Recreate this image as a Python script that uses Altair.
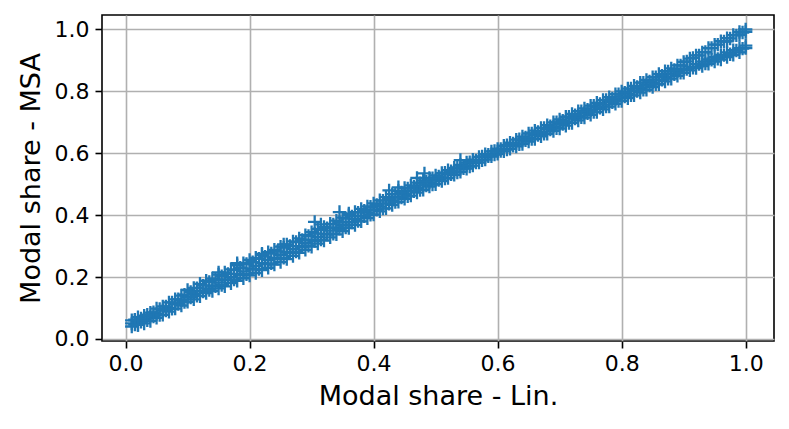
import altair as alt
import pandas as pd

# Modal share - Lin. (x) and three readings of Modal share - MSA (y) across the band
lin = [
    0.01, 0.02, 0.03, 0.04, 0.05, 0.06, 0.07, 0.08, 0.09, 0.10,
    0.11, 0.12, 0.13, 0.14, 0.15, 0.16, 0.17, 0.18, 0.19, 0.20,
    0.21, 0.22, 0.23, 0.24, 0.25, 0.26, 0.27, 0.28, 0.29, 0.30,
    0.31, 0.32, 0.33, 0.34, 0.35, 0.36, 0.37, 0.38, 0.39, 0.40,
    0.41, 0.42, 0.43, 0.44, 0.45, 0.46, 0.47, 0.48, 0.49, 0.50,
    0.51, 0.52, 0.53, 0.54, 0.55, 0.56, 0.57, 0.58, 0.59, 0.60,
    0.61, 0.62, 0.63, 0.64, 0.65, 0.66, 0.67, 0.68, 0.69, 0.70,
    0.71, 0.72, 0.73, 0.74, 0.75, 0.76, 0.77, 0.78, 0.79, 0.80,
    0.81, 0.82, 0.83, 0.84, 0.85, 0.86, 0.87, 0.88, 0.89, 0.90,
    0.91, 0.92, 0.93, 0.94, 0.95, 0.96, 0.97, 0.98, 0.99, 1.00,
]
msa_low = [
    0.040, 0.045, 0.050, 0.058, 0.068, 0.078, 0.088, 0.098, 0.108, 0.120,
    0.128, 0.138, 0.148, 0.155, 0.163, 0.170, 0.180, 0.188, 0.196, 0.205,
    0.213, 0.222, 0.230, 0.240, 0.248, 0.258, 0.268, 0.278, 0.288, 0.298,
    0.308, 0.318, 0.328, 0.338, 0.348, 0.358, 0.368, 0.380, 0.390, 0.402,
    0.412, 0.422, 0.433, 0.443, 0.453, 0.463, 0.473, 0.482, 0.492, 0.500,
    0.510, 0.520, 0.530, 0.540, 0.550, 0.560, 0.570, 0.580, 0.590, 0.598,
    0.606, 0.614, 0.622, 0.630, 0.638, 0.646, 0.655, 0.663, 0.672, 0.680,
    0.689, 0.698, 0.706, 0.715, 0.724, 0.733, 0.742, 0.751, 0.760, 0.769,
    0.778, 0.787, 0.796, 0.805, 0.814, 0.823, 0.832, 0.841, 0.850, 0.860,
    0.868, 0.875, 0.882, 0.889, 0.896, 0.903, 0.911, 0.918, 0.926, 0.940,
]
msa_mid = [
    0.050, 0.055, 0.065, 0.072, 0.080, 0.092, 0.100, 0.112, 0.125, 0.135,
    0.145, 0.155, 0.163, 0.172, 0.182, 0.192, 0.200, 0.210, 0.218, 0.228,
    0.236, 0.245, 0.255, 0.262, 0.272, 0.280, 0.290, 0.300, 0.310, 0.320,
    0.330, 0.340, 0.350, 0.360, 0.368, 0.378, 0.388, 0.398, 0.408, 0.418,
    0.428, 0.438, 0.448, 0.458, 0.468, 0.478, 0.488, 0.496, 0.505, 0.513,
    0.522, 0.532, 0.541, 0.550, 0.560, 0.569, 0.578, 0.588, 0.597, 0.606,
    0.614, 0.623, 0.632, 0.641, 0.650, 0.659, 0.668, 0.677, 0.686, 0.695,
    0.703, 0.712, 0.721, 0.730, 0.739, 0.748, 0.757, 0.766, 0.775, 0.784,
    0.793, 0.802, 0.811, 0.820, 0.829, 0.838, 0.847, 0.856, 0.865, 0.872,
    0.880, 0.888, 0.896, 0.903, 0.911, 0.918, 0.926, 0.933, 0.940, 0.948,
]
msa_high = [
    0.060, 0.070, 0.075, 0.085, 0.098, 0.105, 0.118, 0.128, 0.140, 0.158,
    0.165, 0.178, 0.188, 0.195, 0.208, 0.215, 0.225, 0.238, 0.245, 0.255,
    0.262, 0.272, 0.280, 0.288, 0.298, 0.305, 0.315, 0.325, 0.335, 0.345,
    0.355, 0.362, 0.372, 0.382, 0.392, 0.400, 0.410, 0.420, 0.428, 0.438,
    0.448, 0.458, 0.468, 0.478, 0.488, 0.496, 0.505, 0.512, 0.520, 0.528,
    0.536, 0.545, 0.553, 0.562, 0.570, 0.579, 0.588, 0.597, 0.606, 0.614,
    0.624, 0.634, 0.644, 0.654, 0.664, 0.673, 0.682, 0.691, 0.700, 0.709,
    0.718, 0.727, 0.736, 0.745, 0.754, 0.763, 0.772, 0.781, 0.791, 0.800,
    0.809, 0.818, 0.828, 0.837, 0.846, 0.856, 0.865, 0.874, 0.884, 0.895,
    0.906, 0.916, 0.926, 0.940, 0.951, 0.962, 0.972, 0.982, 0.992, 1.000,
]

# in-between readings at the half steps
lin_half = [
    0.015, 0.025, 0.035, 0.045, 0.055, 0.065, 0.075, 0.085, 0.095, 0.105,
    0.115, 0.125, 0.135, 0.145, 0.155, 0.165, 0.175, 0.185, 0.195, 0.205,
    0.215, 0.225, 0.235, 0.245, 0.255, 0.265, 0.275, 0.285, 0.295, 0.305,
    0.315, 0.325, 0.335, 0.345, 0.355, 0.365, 0.375, 0.385, 0.395, 0.405,
    0.415, 0.425, 0.435, 0.445, 0.455, 0.465, 0.475, 0.485, 0.495, 0.505,
    0.515, 0.525, 0.535, 0.545, 0.555, 0.565, 0.575, 0.585, 0.595, 0.605,
    0.615, 0.625, 0.635, 0.645, 0.655, 0.665, 0.675, 0.685, 0.695, 0.705,
    0.715, 0.725, 0.735, 0.745, 0.755, 0.765, 0.775, 0.785, 0.795, 0.805,
    0.815, 0.825, 0.835, 0.845, 0.855, 0.865, 0.875, 0.885, 0.895, 0.905,
    0.915, 0.925, 0.935, 0.945, 0.955, 0.965, 0.975, 0.985, 0.995,
]
msa_q1 = [
    0.046, 0.055, 0.060, 0.072, 0.077, 0.092, 0.097, 0.113, 0.119, 0.134,
    0.139, 0.153, 0.158, 0.170, 0.174, 0.189, 0.192, 0.206, 0.209, 0.224,
    0.226, 0.241, 0.244, 0.259, 0.262, 0.277, 0.282, 0.297, 0.301, 0.316,
    0.321, 0.337, 0.340, 0.356, 0.360, 0.376, 0.381, 0.396, 0.401, 0.417,
    0.421, 0.437, 0.442, 0.457, 0.461, 0.477, 0.481, 0.496, 0.499, 0.513,
    0.518, 0.532, 0.538, 0.551, 0.557, 0.570, 0.577, 0.590, 0.596, 0.607,
    0.612, 0.624, 0.629, 0.642, 0.646, 0.659, 0.663, 0.677, 0.681, 0.694,
    0.698, 0.712, 0.716, 0.729, 0.733, 0.747, 0.751, 0.765, 0.769, 0.783,
    0.787, 0.801, 0.805, 0.819, 0.823, 0.837, 0.841, 0.855, 0.860, 0.872,
    0.876, 0.888, 0.890, 0.902, 0.905, 0.917, 0.920, 0.932, 0.938,
]
msa_q3 = [
    0.062, 0.066, 0.078, 0.086, 0.097, 0.105, 0.118, 0.128, 0.143, 0.152,
    0.164, 0.172, 0.184, 0.191, 0.203, 0.210, 0.222, 0.230, 0.242, 0.248,
    0.259, 0.266, 0.276, 0.283, 0.295, 0.300, 0.313, 0.320, 0.333, 0.340,
    0.352, 0.358, 0.370, 0.377, 0.389, 0.396, 0.408, 0.414, 0.427, 0.433,
    0.447, 0.453, 0.467, 0.473, 0.486, 0.492, 0.503, 0.508, 0.519, 0.525,
    0.537, 0.542, 0.554, 0.560, 0.571, 0.577, 0.590, 0.595, 0.607, 0.614,
    0.626, 0.632, 0.645, 0.651, 0.664, 0.669, 0.682, 0.687, 0.700, 0.705,
    0.718, 0.723, 0.736, 0.741, 0.754, 0.759, 0.772, 0.777, 0.791, 0.796,
    0.809, 0.814, 0.828, 0.832, 0.846, 0.851, 0.864, 0.869, 0.884, 0.897,
    0.908, 0.916, 0.927, 0.940, 0.951, 0.961, 0.971, 0.981, 0.990,
]

# scattered points lying off the main band
extra_lin = [0.015, 0.020, 0.150, 0.180, 0.220, 0.255, 0.305, 0.315, 0.345, 0.360,
             0.425, 0.440, 0.470, 0.482, 0.540, 0.970, 0.990, 1.000]
extra_msa = [0.060, 0.045, 0.215, 0.245, 0.275, 0.305, 0.378, 0.370, 0.410, 0.405,
             0.480, 0.490, 0.520, 0.535, 0.578, 0.962, 0.983, 0.992]

xs = lin * 3 + lin_half * 2 + extra_lin
ys = msa_low + msa_mid + msa_high + msa_q1 + msa_q3 + extra_msa
df = pd.DataFrame({"lin": xs, "msa": ys})

x_ticks = [0.0, 0.2, 0.4, 0.6, 0.8, 1.0]
y_ticks = [0.0, 0.2, 0.4, 0.6, 0.8, 1.0]

plus = "M-1,0L1,0M0,-1L0,1"

chart = (
    alt.Chart(df)
    .mark_point(shape=plus, filled=False, size=180, strokeWidth=2.3, color="#1f77b4", opacity=1)
    .encode(
        x=alt.X(
            "lin:Q",
            scale=alt.Scale(domain=[-0.038, 1.0457], nice=False, zero=False),
            axis=alt.Axis(values=x_ticks, format=".1f", title="Modal share - Lin.", labelPadding=5, titlePadding=9),
        ),
        y=alt.Y(
            "msa:Q",
            scale=alt.Scale(domain=[-0.0068, 1.0468], nice=False, zero=False),
            axis=alt.Axis(values=y_ticks, format=".1f", title="Modal share - MSA", labelPadding=6, titlePadding=9),
        ),
    )
    .properties(
        width=672,
        height=326,
        autosize=alt.AutoSizeParams(type="none"),
        padding={"left": 94, "top": 7, "right": 7, "bottom": 80},
    )
    .configure_view(stroke="black", strokeWidth=1.6)
    .configure_axis(
        grid=True,
        gridColor="#b0b0b0",
        gridWidth=1.6,
        domain=False,
        ticks=True,
        tickColor="black",
        tickWidth=1.6,
        tickSize=7,
        labelFont="DejaVu Sans",
        labelFontSize=22,
        labelColor="black",
        titleFont="DejaVu Sans",
        titleFontSize=27,
        titleFontWeight="normal",
        titleColor="black",
    )
)

chart.save("out.html", embed_options={"renderer": "svg", "actions": False})
